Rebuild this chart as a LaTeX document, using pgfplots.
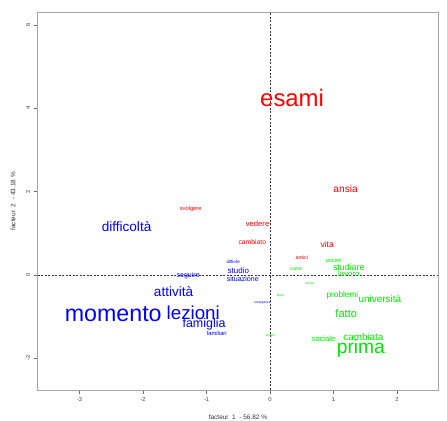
\documentclass[border=0pt]{standalone}
\usepackage{fontspec}
\setmainfont{Liberation Sans}
\usepackage{pgfplots}
\pgfplotsset{compat=1.18}
\definecolor{rred}{RGB}{255,0,0}
\definecolor{rblue}{RGB}{0,0,255}
\definecolor{rgreen}{RGB}{0,230,0}
\pgfplotsset{words/.style={draw=none, mark=none, nodes near coords, point meta=explicit symbolic,
  visualization depends on={value \thisrow{fs}\as\fs},
  nodes near coords style={text=#1, anchor=base, inner sep=0pt,
    font=\fontsize{\fs}{\fs}\selectfont, yshift={-0.30*\fs}}}}
\begin{document}
\begin{tikzpicture}
\begin{axis}[
  at={(0,0)}, anchor=south west,
  scale only axis, width=400.6bp, height=377.3bp,
  xmin=-3.66, xmax=2.65, ymin=-2.76, ymax=6.29,
  xtick={-3,-2,-1,0,1,2}, ytick={-2,0,2,4,6},
  tick pos=left, tick align=outside, major tick length=4bp,
  axis line style={draw=gray!70, line width=0.9bp},
  tick style={draw=gray!80!black, line width=0.5bp},
  /pgf/number format/assume math mode=true,
  ticklabel style={font=\fontsize{5.8}{6}\selectfont, text=black!75},
  yticklabel style={rotate=90, anchor=south},
  xlabel={facteur\ \ 1\ \ -\ 56.82\ \%},
  ylabel={facteur\ \ 2\ \ -\ 43.18\ \%},
  xlabel style={at={(axis description cs:0.5,-0.0716)}, anchor=center, font=\fontsize{6.5}{7}\selectfont, text=black!80},
  ylabel style={at={(axis description cs:-0.0617,0.5)}, anchor=center, font=\fontsize{6.5}{7}\selectfont, text=black!80},
]
\addplot[black!80, dash pattern=on 2bp off 1.5bp, line width=0.4bp] coordinates {(0,-2.76) (0,6.29)};
\addplot[black!80, dash pattern=on 2bp off 1.5bp, line width=0.4bp] coordinates {(-3.66,0) (2.65,0)};
\addplot[words=rred] table[meta=w] {
x y fs w
0.347 4.22 24 esami
1.19 2.06 10.2 ansia
-1.25 1.58 5.8 svolgere
-0.197 1.22 7.7 vedere
-0.28 0.77 6.8 cambiato
0.90 0.71 8.6 vita
0.50 0.41 5.4 amici
};
\addplot[words=rblue] table[meta=w] {
x y fs w
-2.26 1.15 13.6 difficoltà
-1.29 -0.02 7.1 seguire
-0.58 0.30 4.4 difficile
-0.50 0.10 8.0 studio
-0.43 -0.10 7.1 situazione
-1.52 -0.42 13.6 attività
-2.47 -0.96 23.3 momento
-1.21 -0.94 18.8 lezioni
-1.04 -1.18 12.5 famiglia
-0.84 -1.40 5.8 familiari
-0.12 -0.65 3.3 emergenza
};
\addplot[words=rgreen] table[meta=w] {
x y fs w
1.00 0.34 6.0 uscire
0.41 0.14 5.4 casa
1.24 0.16 8.9 studiare
1.24 0.02 7.9 lavoro
0.63 -0.20 3.5 punto
0.16 -0.50 3.5 idea
1.14 -0.47 8.3 problemi
1.73 -0.58 10.0 università
1.20 -0.94 11.1 fatto
1.47 -1.49 9.9 cambiata
0.84 -1.53 7.7 sociale
1.43 -1.74 19.3 prima
0.01 -1.46 3.5 tempo
};
\end{axis}
\pgfresetboundingbox
\path (-37.7bp,-31bp) rectangle (409.3bp,390bp);
\end{tikzpicture}
\end{document}
